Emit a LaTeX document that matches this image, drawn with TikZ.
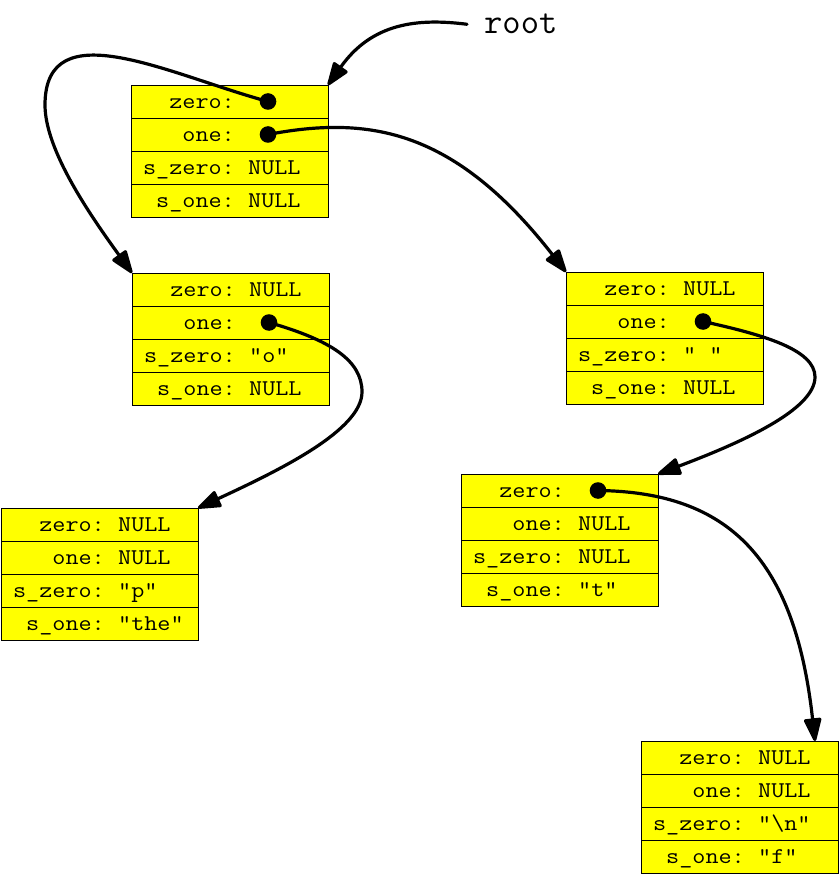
\documentclass[tikz,border=0pt]{standalone}
\usepackage{fontspec}
\usetikzlibrary{arrows.meta,calc}
\newfontfamily\fieldfont{Latin Modern Mono}[FakeStretch=1.13]
\newfontfamily\labelfont{Latin Modern Mono}
\definecolor{cellfill}{RGB}{255,255,0}

\tikzset{
  cell/.style={draw=black, line width=0.9pt, fill=cellfill,
    minimum width=197pt, minimum height=33pt, inner sep=0pt, outer sep=0pt},
  fieldtxt/.style={font=\fieldfont\fontsize{22.5}{26}\selectfont, inner sep=0pt},
  keytxt/.style={fieldtxt, anchor=base east},
  valtxt/.style={fieldtxt, anchor=base west},
  link/.style={line width=3.2pt, line cap=round,
    -{Triangle[length=26pt,width=18pt,round]}},
  pin/.style={fill=black},
}

% one row of a record: name, left x, top y, field name, field value
\newcommand{\fieldrow}[5]{%
  \node[cell, anchor=north west] (#1) at (#2,#3) {};
  \node[keytxt] (#1-k) at ($(#1.west)+(104,7)$) {#4};
  \node[valtxt] (#1-v) at ($(#1.west)+(117,7)$) {#5};
}
% four rows of a trie node: name, left x, top y, then the four values
\newcommand{\trienode}[7]{%
  \fieldrow{#1-1}{#2}{#3}{zero:}{#4}%
  \fieldrow{#1-2}{#2}{#3+33}{one:}{#5}%
  \fieldrow{#1-3}{#2}{#3+66}{s\_zero:}{#6}%
  \fieldrow{#1-4}{#2}{#3+99}{s\_one:}{#7}%
}

\begin{document}
\begin{tikzpicture}[x=1pt, y=-1pt]
\useasboundingbox (0,0) rectangle (839,874);

% records
\trienode{a}{131}{85}{}{}{NULL}{NULL}
\trienode{b}{132}{273}{NULL}{}{"o"}{NULL}
\trienode{c}{566}{272}{NULL}{}{"\ "}{NULL}
\trienode{d}{1}{508}{NULL}{NULL}{"p"}{"the"}
\trienode{e}{461}{474}{}{NULL}{NULL}{"t"}
\trienode{f}{641}{741}{NULL}{NULL}{"\textbackslash n"}{"f"}

% pointer origins
\coordinate (a-zero) at ($(a-1.west)+(137,0)$);
\coordinate (a-one)  at ($(a-2.west)+(137,0)$);
\coordinate (b-one)  at ($(b-2.west)+(137,0)$);
\coordinate (c-one)  at ($(c-2.west)+(137,0)$);
\coordinate (e-zero) at ($(e-1.west)+(137,0)$);
\coordinate (f-in)   at ($(f-1.north east)+(-23,0)$);

% root label
\node[font=\labelfont\fontsize{35.5}{40}\selectfont, inner sep=0pt, anchor=base west]
  (root) at (484,34) {root};
\coordinate (root-from) at ($(root.west)+(-17,0)$);

% pointers
\draw[link] (root-from) .. controls (417,18) and (372,23) .. (a-1.north east);
\draw[link] (a-zero) .. controls (170,75) and (45,10) .. (45,105)
                     .. controls (45,150) and (90,215) .. (b-1.north west);
\draw[link] (a-one) .. controls (370,115) and (455,130) .. (c-1.north west);
\draw[link] (b-one) .. controls (330,340) and (362,360) .. (362,392)
                    .. controls (362,430) and (280,470) .. (d-1.north east);
\draw[link] (c-one) .. controls (765,335) and (815,350) .. (815,377)
                    .. controls (815,410) and (740,443) .. (e-1.north east);
\draw[link] (e-zero) .. controls (730,492) and (795,560) .. (f-in);

% pointer dots
\foreach \p in {a-zero,a-one,b-one,c-one,e-zero}
  \fill[pin] (\p) circle (8.3pt);
\end{tikzpicture}
\end{document}
